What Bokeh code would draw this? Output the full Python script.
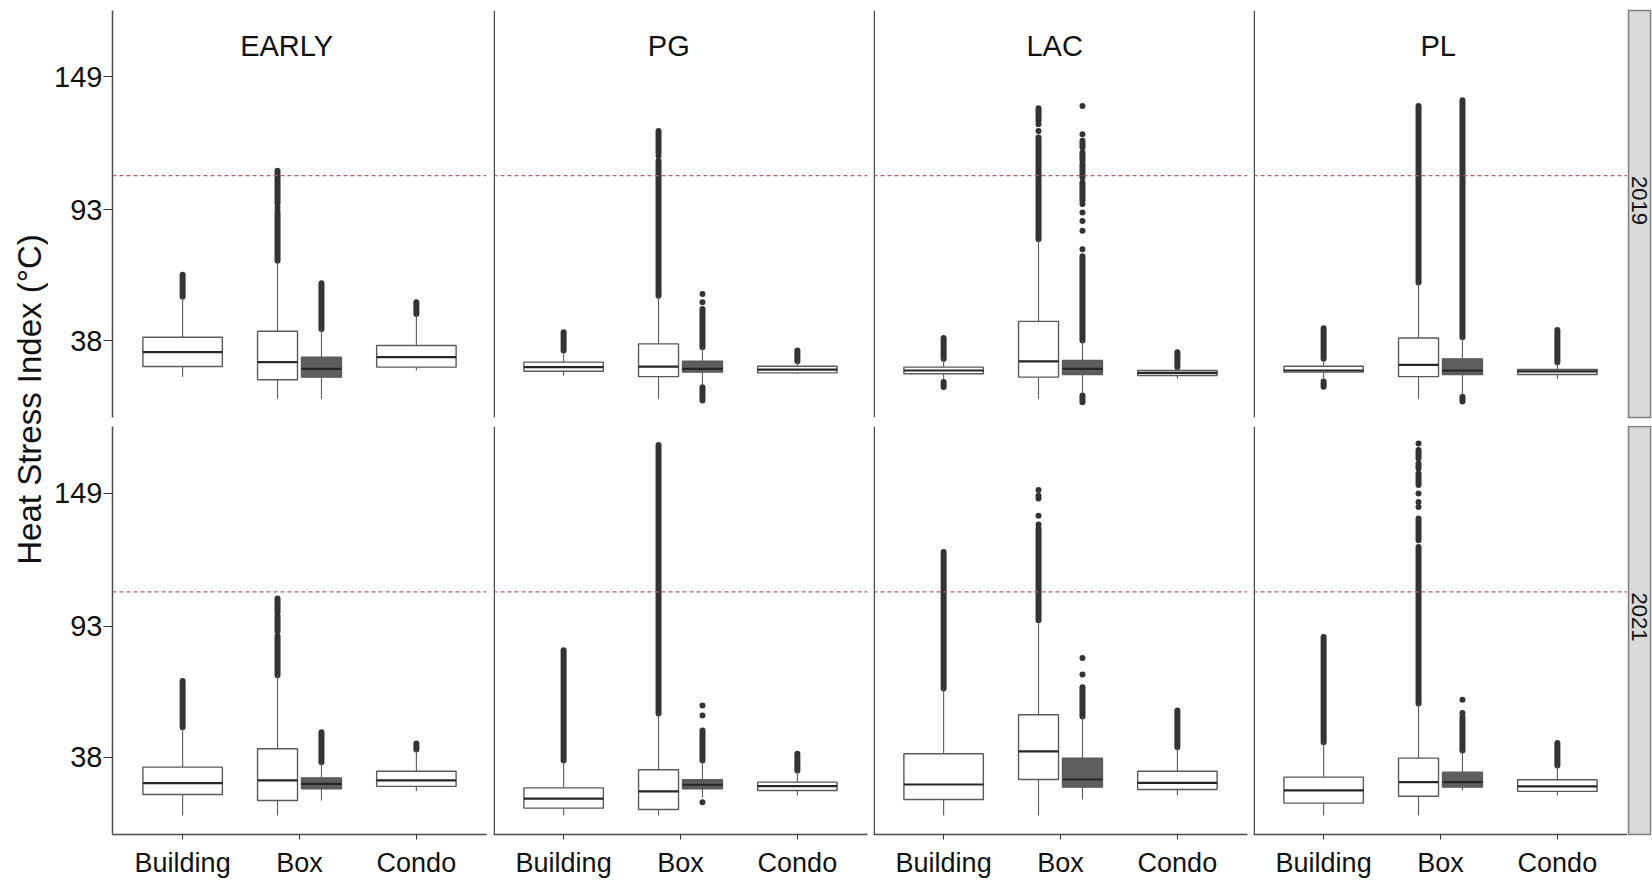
from math import pi
from bokeh.plotting import figure
from bokeh.layouts import row, column
from bokeh.models import Range1d, FixedTicker, Span, Label, ColumnDataSource
from bokeh.embed import file_html
from bokeh.resources import INLINE

# ---------------- data ----------------
REGIONS = ["EARLY", "PG", "LAC", "PL"]
YEARS = ["2019", "2021"]
CATEGORIES = ["Building", "Box", "Condo"]
Y_TICKS = [38, 93, 149]
THRESHOLD = 107.5
Y_TITLE = "Heat Stress Index (°C)"

# 32 boxes, ordered year -> region -> [Building, Box(A), Box(B), Condo]
box_cat = [1, 2, 2, 3] * 8
box_group = ["A", "A", "B", "A"] * 8

q1 = [27.1, 21.5, 22.6, 26.8,  25.1, 22.8, 24.7, 24.4,  24.0, 22.6, 23.7, 23.3,  24.7, 22.8, 23.7, 23.7,
      22.4, 19.9, 24.8, 25.8,  16.7, 16.1, 24.8, 24.1,  20.3, 28.7, 25.5, 24.5,  18.8, 21.7, 25.5, 23.7]
med = [33.1, 28.9, 26.1, 31.0,  26.8, 27.0, 26.1, 25.8,  25.4, 29.2, 26.1, 24.4,  25.4, 27.8, 25.4, 25.0,
       27.2, 28.3, 26.9, 28.3,  20.7, 23.7, 26.5, 25.9,  26.6, 40.5, 28.7, 27.3,  24.1, 27.6, 27.6, 25.8]
q3 = [39.4, 41.9, 31.0, 35.9,  28.9, 36.6, 29.3, 27.2,  26.8, 46.1, 29.6, 25.4,  27.2, 39.1, 30.3, 25.8,
      33.9, 41.6, 29.4, 32.2,  25.2, 32.8, 28.6, 27.6,  39.5, 55.9, 37.7, 32.2,  29.7, 37.7, 31.8, 28.6]
wlo = [22.8, 13.5, 13.5, 25.4,  23.3, 13.5, 19.1, 24.0,  21.9, 13.5, 15.6, 21.9,  21.9, 13.5, 14.9, 21.9,
       13.6, 13.6, 19.9, 23.8,  13.6, 13.6, 21.3, 22.0,  13.6, 13.6, 20.3, 22.0,  13.6, 13.6, 24.1, 22.0]
whi = [56.5, 71.6, 42.9, 49.2,  33.8, 56.9, 35.2, 29.3,  30.3, 80.7, 38.0, 26.8,  30.3, 62.5, 39.4, 28.9,
       50.7, 72.5, 36.0, 40.9,  36.7, 56.4, 36.7, 32.5,  66.9, 95.6, 55.2, 42.3,  44.4, 60.6, 40.9, 34.6]

# dense runs of outliers (box index, low value, high value)
run_box = [0, 1, 1, 2, 3,
           4, 5, 5, 6, 6, 7,
           8, 8, 9, 9, 10, 10, 10, 10, 10, 10, 11,
           12, 12, 13, 14, 14, 15,
           16, 17, 17, 17, 18, 19,
           20, 21, 22, 23,
           24, 25, 26, 27,
           28, 29, 29, 29, 29, 29, 30, 31]
run_lo = [56.5, 71.6, 95.6, 42.9, 49.2,
          33.8, 56.9, 117.2, 35.2, 12.8, 29.3,
          30.3, 18.4, 80.7, 130.5, 38.0, 96.9, 106.7, 113.7, 119.3, 12.0, 26.8,
          30.3, 18.6, 62.5, 39.4, 12.3, 28.9,
          50.7, 72.5, 91.0, 99.0, 36.0, 41.3,
          36.7, 56.4, 36.7, 32.5,
          66.9, 95.6, 55.2, 42.3,
          44.4, 60.6, 129.2, 152.4, 159.4, 163.6, 40.9, 34.6]
run_hi = [65.7, 91.4, 109.5, 62.1, 54.1,
          41.5, 113.7, 126.3, 51.3, 18.3, 33.8,
          39.1, 20.5, 123.5, 135.8, 73.5, 104.6, 112.3, 117.2, 122.1, 14.9, 33.1,
          43.2, 20.8, 136.8, 139.2, 14.3, 42.5,
          70.1, 89.0, 97.5, 104.7, 48.6, 43.8,
          83.0, 169.2, 49.3, 39.5,
          124.3, 134.2, 67.5, 57.7,
          88.6, 126.4, 138.4, 157.3, 161.5, 167.1, 54.9, 44.0]

# isolated outliers (box index, value)
pt_box = [1, 1, 5, 6, 6, 9, 9,
          10, 10, 10, 10, 10, 10, 10,
          22, 22, 22,
          25, 25, 25, 25, 25, 26, 26,
          29, 29, 29, 29, 30, 30]
pt_val = [92.6, 94.0, 115.8, 54.1, 57.6, 126.3, 129.1,
          76.5, 84.2, 88.4, 91.9, 95.5, 124.9, 136.8,
          55.6, 59.8, 19.2,
          135.8, 139.5, 146.8, 147.9, 150.3, 72.8, 79.7,
          143.2, 145.3, 148.9, 169.9, 56.6, 62.2]

# ---------------- styling ----------------
FONT = "Liberation Sans"
AXIS_COL = "#4d4d4d"
BOX_LINE = "#5a5a5a"
DARK = "#333333"
FILLS = {"A": "#ffffff", "B": "#5e5e5e"}
W_SINGLE, W_DODGE, DODGE = 0.68, 0.342, 0.188
STRIP_X = {"EARLY": 1.89, "PG": 1.90, "LAC": 1.95, "PL": 1.98}
X0, X1, Y0, Y1 = 0.4, 3.6, 5.6, 177.0

TOP_MT, TOP_FH, TOP_MB = 10, 407, 9
BOT_MT, BOT_FH, BOT_MB = 0, 408, 46


def geom(i):
    cat = box_cat[i]
    groups = {box_group[j] for j in range(len(box_cat))
              if box_cat[j] == cat and j // 4 == i // 4}
    if len(groups) > 1:
        off = -DODGE if box_group[i] == "A" else DODGE
        return cat + off, W_DODGE
    return float(cat), W_SINGLE


def make_panel(yi, ri):
    top = yi == 0
    left = ri == 0
    fw = 374
    ml = 64 if left else 0
    mr = 7 if ri == 0 else (6 if ri < 3 else 0)
    mt, fh, mb = (TOP_MT, TOP_FH, TOP_MB) if top else (BOT_MT, BOT_FH, BOT_MB)
    p = figure(width=ml + fw + mr, height=mt + fh + mb,
               x_range=Range1d(X0, X1), y_range=Range1d(Y0, Y1),
               output_backend="svg", toolbar_location=None,
               min_border_left=ml, min_border_right=mr,
               min_border_top=mt, min_border_bottom=mb,
               x_axis_location=None if top else "below",
               y_axis_location="left" if left else None)
    p.grid.visible = False
    p.outline_line_color = None
    p.background_fill_color = "white"

    if left:
        ax = p.yaxis[0]
        ax.ticker = FixedTicker(ticks=Y_TICKS)
        ax.major_label_text_font = FONT
        ax.major_label_text_font_size = "29px"
        ax.major_label_text_color = "#111111"
        ax.axis_line_color = AXIS_COL
        ax.axis_line_width = 1.5
        ax.major_tick_line_color = "#333333"
        ax.major_tick_line_width = 1.2
        ax.major_tick_out = 9
        ax.major_tick_in = 0
        ax.minor_tick_out = 0
        ax.minor_tick_in = 0
        ax.major_label_standoff = 1
    else:
        p.add_layout(Span(location=X0 + 0.0065, dimension="height",
                          line_color=AXIS_COL, line_width=1.5))
    if not top:
        ax = p.xaxis[0]
        ax.ticker = FixedTicker(ticks=[1, 2, 3])
        ax.major_label_overrides = {i + 1: c for i, c in enumerate(CATEGORIES)}
        ax.major_label_text_font = FONT
        ax.major_label_text_font_size = "27px"
        ax.major_label_text_color = "#111111"
        ax.axis_line_color = AXIS_COL
        ax.axis_line_width = 1.5
        ax.major_tick_line_color = "#333333"
        ax.major_tick_out = 5
        ax.major_tick_in = 0
        ax.minor_tick_out = 0
        ax.minor_tick_in = 0
        ax.major_label_standoff = 8

    p.add_layout(Span(location=THRESHOLD, dimension="width", line_color="#b5625f",
                      line_dash="4 3", line_width=1.3))

    idx = [yi * 16 + ri * 4 + k for k in range(4)]
    xs, ws = zip(*[geom(i) for i in idx])
    src = ColumnDataSource(dict(
        x=list(xs), w=list(ws),
        x0=[x - w / 2 for x, w in zip(xs, ws)], x1=[x + w / 2 for x, w in zip(xs, ws)],
        q1=[q1[i] for i in idx], med=[med[i] for i in idx], q3=[q3[i] for i in idx],
        wlo=[wlo[i] for i in idx], whi=[whi[i] for i in idx],
        fill=[FILLS[box_group[i]] for i in idx]))

    # outliers
    rsel = [k for k, b in enumerate(run_box) if b in idx]
    rsrc = ColumnDataSource(dict(
        x=[geom(run_box[k])[0] for k in rsel],
        lo=[run_lo[k] for k in rsel], hi=[run_hi[k] for k in rsel]))
    p.segment(x0="x", x1="x", y0="lo", y1="hi", source=rsrc, line_width=6,
              line_cap="round", line_color=DARK)
    psel = [k for k, b in enumerate(pt_box) if b in idx]
    psrc = ColumnDataSource(dict(x=[geom(pt_box[k])[0] for k in psel],
                                 y=[pt_val[k] for k in psel]))
    p.scatter(x="x", y="y", source=psrc, size=6, color=DARK, line_width=0)

    # whiskers
    p.segment(x0="x", x1="x", y0="q3", y1="whi", source=src, line_color=BOX_LINE, line_width=1.1)
    p.segment(x0="x", x1="x", y0="q1", y1="wlo", source=src, line_color=BOX_LINE, line_width=1.1)
    # boxes
    p.vbar(x="x", width="w", top="q3", bottom="q1", source=src, fill_color="fill",
           line_color=BOX_LINE, line_width=1.4)
    p.segment(x0="x0", x1="x1", y0="med", y1="med", source=src,
              line_color="#262626", line_width=2.2)

    if top:
        reg = REGIONS[ri]
        p.add_layout(Label(x=STRIP_X[reg], y=162, text=reg, text_font=FONT,
                           text_font_size="29px", text_align="center",
                           text_baseline="middle", text_color="#111111"))
    return p


def make_strip(yi):
    top = yi == 0
    mt, fh, mb = (TOP_MT, TOP_FH, TOP_MB) if top else (BOT_MT, BOT_FH, BOT_MB)
    s = figure(width=25, height=mt + fh + mb, x_range=Range1d(0, 1),
               y_range=Range1d(Y0, Y1), output_backend="svg", toolbar_location=None,
               min_border_left=1, min_border_right=2, min_border_top=mt,
               min_border_bottom=mb, x_axis_location=None, y_axis_location=None)
    s.grid.visible = False
    s.background_fill_color = "#d9d9d9"
    s.outline_line_color = "#7f7f7f"
    s.outline_line_width = 1.5
    s.add_layout(Label(x=0.5, y=97, text=YEARS[yi], angle=-pi / 2, text_font=FONT,
                       text_font_size="22px", text_align="center", text_line_height=1.0,
                       text_baseline="middle", text_color="#111111"))
    return s


H_TOTAL = (TOP_MT + TOP_FH + TOP_MB) + (BOT_MT + BOT_FH + BOT_MB)
title_fig = figure(width=48, height=H_TOTAL, x_range=Range1d(0, 48), y_range=Range1d(0, H_TOTAL),
                   output_backend="svg", toolbar_location=None, min_border=0,
                   min_border_left=0, min_border_right=0, min_border_top=0, min_border_bottom=0,
                   x_axis_location=None, y_axis_location=None)
title_fig.grid.visible = False
title_fig.outline_line_color = None
title_fig.add_layout(Label(x=28.5, y=H_TOTAL - 399, text=Y_TITLE, angle=pi / 2, text_font=FONT,
                           text_font_size="33px", text_align="center", text_baseline="middle",
                           text_color="#111111"))

rows = []
for yi in range(2):
    rows.append(row([make_panel(yi, ri) for ri in range(4)] + [make_strip(yi)], spacing=0))

p = row(title_fig, column(rows, spacing=0), spacing=0)

open("out.html", "w").write(file_html(p, INLINE))
